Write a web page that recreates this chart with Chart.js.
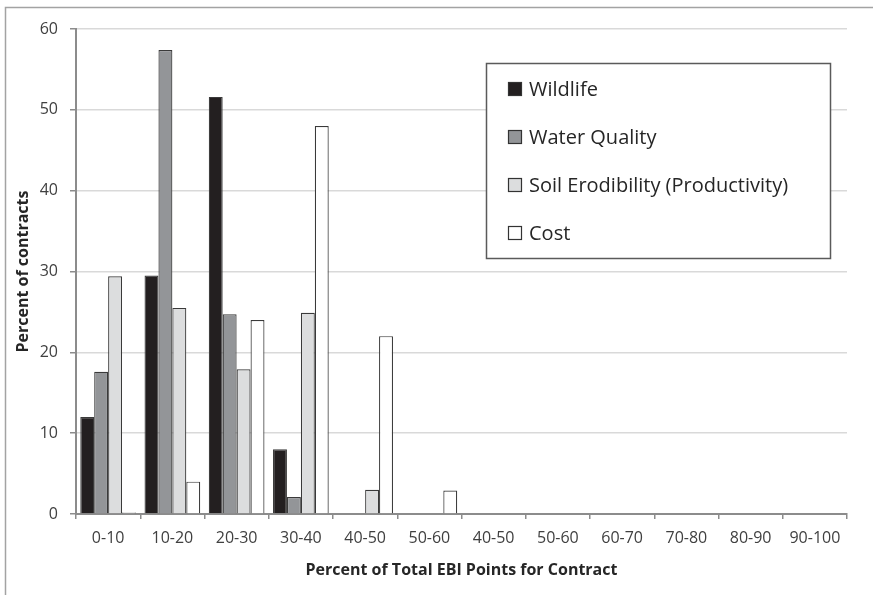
<!DOCTYPE html>
<html>
<head>
<meta charset="utf-8">
<script src="https://cdn.jsdelivr.net/npm/chart.js@4/dist/chart.umd.min.js"></script>
<style>
  html, body { margin: 0; padding: 0; background: #ffffff; }
  #wrap { position: relative; width: 873px; height: 595px; }
</style>
</head>
<body>
<div id="wrap"><canvas id="c" width="873" height="595"></canvas></div>
<script>
const categories = ["0-10", "10-20", "20-30", "30-40", "40-50", "50-60", "40-50", "50-60", "60-70", "70-80", "80-90", "90-100"];
const wildlife        = [12.0, 29.5, 51.6, 8.0, 0, 0, 0, 0, 0, 0, 0, 0];
const waterQuality    = [17.6, 57.4, 24.7, 2.1, 0, 0, 0, 0, 0, 0, 0, 0];
const soilErodibility = [29.4, 25.5, 17.9, 24.9, 3.0, 0, 0, 0, 0, 0, 0, 0];
const cost            = [0.2, 4.0, 24.0, 48.0, 22.0, 2.9, 0, 0, 0, 0, 0, 0];
const seriesNames = ["Wildlife", "Water Quality", "Soil Erodibility (Productivity)", "Cost"];
const seriesColors = ["#231f20", "#939598", "#dcddde", "#ffffff"];
const yTitle = "Percent of contracts";
const xTitle = "Percent of Total EBI Points for Contract";

const FONT = "'Open Sans', 'DejaVu Sans', sans-serif";
const seriesData = [wildlife, waterQuality, soilErodibility, cost];

const framePlugin = {
  id: 'frame',
  beforeDraw(chart) {
    const ctx = chart.ctx;
    ctx.save();
    ctx.strokeStyle = '#a3a3a3';
    ctx.lineWidth = 1.5;
    ctx.beginPath();
    ctx.moveTo(5.5, 595);
    ctx.lineTo(5.5, 7.5);
    ctx.lineTo(873, 7.5);
    ctx.stroke();
    ctx.restore();
  }
};

const legendPlugin = {
  id: 'boxLegend',
  afterDraw(chart) {
    const ctx = chart.ctx;
    const x0 = 486, y0 = 63, x1 = 830, y1 = 258;
    ctx.save();
    ctx.fillStyle = '#ffffff';
    ctx.fillRect(x0, y0, x1 - x0, y1 - y0);
    ctx.strokeStyle = '#5a5a5a';
    ctx.lineWidth = 1.5;
    ctx.strokeRect(x0 + 0.5, y0 + 0.5, x1 - x0, y1 - y0);
    ctx.font = "20px " + FONT;
    ctx.textBaseline = 'middle';
    ctx.textAlign = 'left';
    chart.data.datasets.forEach((ds, i) => {
      const cy = 89 + i * 48;
      ctx.fillStyle = ds.backgroundColor;
      ctx.fillRect(508, cy - 7, 14, 14);
      ctx.strokeStyle = '#333333';
      ctx.lineWidth = 1.2;
      ctx.strokeRect(508.5, cy - 6.5, 13, 13);
      ctx.fillStyle = '#262626';
      ctx.fillText(ds.label, 529, cy + 1);
    });
    ctx.restore();
  }
};

new Chart(document.getElementById('c'), {
  type: 'bar',
  data: {
    labels: categories,
    datasets: seriesNames.map((name, i) => ({
      label: name,
      data: seriesData[i],
      backgroundColor: seriesColors[i],
      borderColor: '#3a3a3a',
      borderWidth: (c) => (c.raw === 0 ? 0 : 1.2),
      borderSkipped: 'bottom',
      categoryPercentage: 0.867,
      barPercentage: 1.0
    }))
  },
  options: {
    responsive: false,
    animation: false,
    devicePixelRatio: 1,
    layout: { padding: { left: 0, right: 26, top: 29, bottom: 0 } },
    plugins: {
      legend: { display: false },
      tooltip: { enabled: false }
    },
    scales: {
      x: {
        offset: true,
        afterFit(s) { s.height = 81; },
        grid: {
          offset: true,
          drawOnChartArea: false,
          drawTicks: true,
          tickLength: 5,
          color: '#8c8c8c',
          lineWidth: 1.5
        },
        border: { color: '#8c8c8c', width: 2 },
        ticks: {
          color: '#404040',
          font: { family: FONT, size: 16 },
          padding: 10,
          maxRotation: 0,
          autoSkip: false
        },
        title: {
          display: true,
          text: xTitle,
          color: '#262626',
          font: { family: FONT, size: 16, weight: 'bold' },
          padding: { top: 0, bottom: 15 }
        }
      },
      y: {
        min: 0,
        max: 60,
        afterFit(s) { s.width = 76; },
        grid: {
          color: '#d9d9d9',
          lineWidth: 1.5,
          drawTicks: true,
          tickLength: 6,
          tickColor: '#8c8c8c'
        },
        border: { color: '#8c8c8c', width: 2 },
        ticks: {
          stepSize: 10,
          color: '#404040',
          font: { family: FONT, size: 16 },
          padding: 12
        },
        title: {
          display: true,
          text: yTitle,
          color: '#262626',
          font: { family: FONT, size: 16, weight: 'bold' },
          padding: { top: 14, bottom: 0 }
        }
      }
    }
  },
  plugins: [framePlugin, legendPlugin]
});
</script>
</body>
</html>
